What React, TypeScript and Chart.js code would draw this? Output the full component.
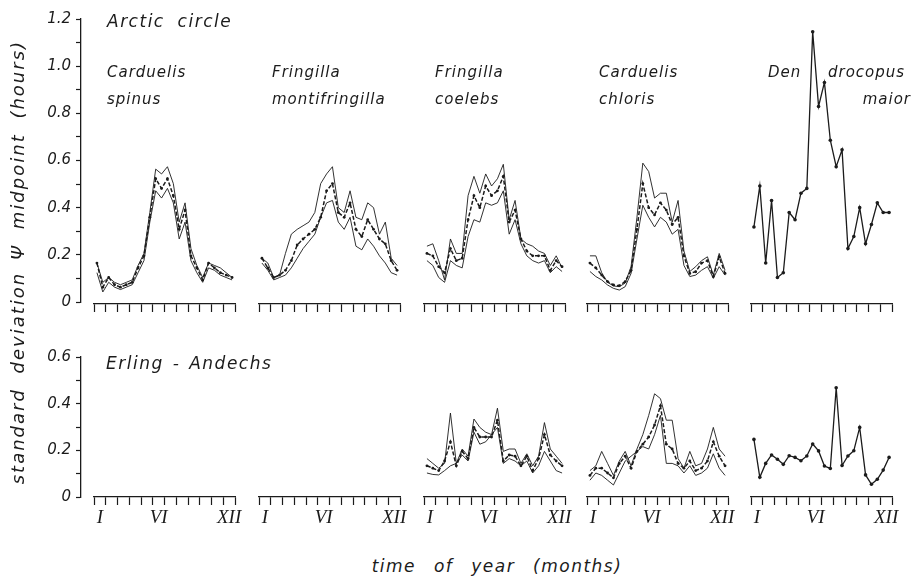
import React, { useEffect, useRef } from 'react';
import { Chart, registerables } from 'chart.js';

Chart.register(...registerables);

// ---------- data ----------
// x positions: half-month centres (months from 1 January)
const halfMonths = [0.25, 0.75, 1.25, 1.75, 2.25, 2.75, 3.25, 3.75, 4.25, 4.75, 5.25, 5.75,
  6.25, 6.75, 7.25, 7.75, 8.25, 8.75, 9.25, 9.75, 10.25, 10.75, 11.25, 11.75];

const monthTickPositions = [0.5, 5.5, 11.5];
const monthTickLabels = ['I', 'VI', 'XII'];
const psiTickLabels = ['0', '0.2', '0.4', '0.6', '0.8', '1.0', '1.2'];
const sdTickLabels = ['0', '0.2', '0.4', '0.6'];

// Arctic circle – Psi midpoint (hours)
const spinusUpper = [0.17, 0.09, 0.11, 0.09, 0.08, 0.09, 0.10, 0.16, 0.21, 0.38, 0.56, 0.54, 0.57, 0.50, 0.34, 0.42, 0.23, 0.16, 0.11, 0.17, 0.16, 0.15, 0.13, 0.11];
const spinusMean = [0.17, 0.07, 0.11, 0.08, 0.07, 0.08, 0.09, 0.15, 0.20, 0.36, 0.52, 0.48, 0.52, 0.45, 0.31, 0.39, 0.20, 0.15, 0.10, 0.17, 0.15, 0.13, 0.12, 0.11];
const spinusLower = [0.13, 0.05, 0.09, 0.07, 0.06, 0.07, 0.08, 0.13, 0.18, 0.34, 0.47, 0.44, 0.48, 0.42, 0.27, 0.34, 0.18, 0.13, 0.09, 0.15, 0.14, 0.12, 0.11, 0.10];

const montiUpper = [0.19, 0.17, 0.11, 0.12, 0.21, 0.29, 0.31, 0.325, 0.34, 0.38, 0.50, 0.54, 0.57, 0.40, 0.38, 0.47, 0.36, 0.35, 0.42, 0.40, 0.29, 0.34, 0.19, 0.16];
const montiMean = [0.19, 0.15, 0.11, 0.12, 0.14, 0.18, 0.245, 0.27, 0.29, 0.31, 0.36, 0.47, 0.50, 0.38, 0.36, 0.42, 0.31, 0.28, 0.35, 0.31, 0.27, 0.25, 0.18, 0.14];
const montiLower = [0.17, 0.14, 0.10, 0.11, 0.12, 0.15, 0.19, 0.23, 0.26, 0.29, 0.36, 0.42, 0.43, 0.34, 0.31, 0.36, 0.24, 0.225, 0.27, 0.24, 0.20, 0.17, 0.13, 0.12];

const coelebsUpper = [0.24, 0.25, 0.18, 0.10, 0.27, 0.21, 0.21, 0.45, 0.53, 0.46, 0.54, 0.49, 0.52, 0.58, 0.35, 0.43, 0.27, 0.25, 0.24, 0.22, 0.21, 0.16, 0.20, 0.15];
const coelebsMean = [0.21, 0.20, 0.155, 0.13, 0.23, 0.18, 0.19, 0.35, 0.45, 0.40, 0.49, 0.45, 0.47, 0.53, 0.34, 0.39, 0.27, 0.22, 0.20, 0.20, 0.20, 0.14, 0.18, 0.155];
const coelebsLower = [0.18, 0.16, 0.11, 0.09, 0.18, 0.16, 0.15, 0.28, 0.35, 0.34, 0.42, 0.41, 0.42, 0.47, 0.29, 0.35, 0.25, 0.20, 0.18, 0.17, 0.18, 0.13, 0.155, 0.135];

const chlorisUpper = [0.20, 0.20, 0.13, 0.09, 0.075, 0.072, 0.087, 0.155, 0.36, 0.585, 0.55, 0.44, 0.46, 0.46, 0.34, 0.43, 0.22, 0.135, 0.155, 0.18, 0.196, 0.12, 0.21, 0.14];
const chlorisMean = [0.17, 0.15, 0.12, 0.093, 0.079, 0.076, 0.093, 0.14, 0.31, 0.50, 0.40, 0.37, 0.42, 0.39, 0.33, 0.36, 0.20, 0.127, 0.134, 0.17, 0.18, 0.114, 0.196, 0.127];
const chlorisLower = [0.135, 0.114, 0.10, 0.079, 0.065, 0.058, 0.072, 0.127, 0.27, 0.41, 0.36, 0.32, 0.36, 0.34, 0.29, 0.31, 0.16, 0.114, 0.12, 0.14, 0.155, 0.107, 0.155, 0.12];

const maiorPsi = [0.32, 0.49, 0.17, 0.43, 0.11, 0.13, 0.38, 0.35, 0.46, 0.48, 1.13, 0.82, 0.92, 0.68, 0.57, 0.64, 0.23, 0.28, 0.40, 0.25, 0.33, 0.42, 0.38, 0.38];

// Erling-Andechs – standard deviation
const coelebsSdUpper = [0.16, 0.14, 0.12, 0.14, 0.35, 0.14, 0.20, 0.17, 0.325, 0.29, 0.27, 0.26, 0.37, 0.19, 0.20, 0.20, 0.14, 0.18, 0.13, 0.17, 0.31, 0.20, 0.17, 0.14];
const coelebsSdMean = [0.13, 0.12, 0.11, 0.15, 0.23, 0.13, 0.19, 0.16, 0.29, 0.25, 0.25, 0.25, 0.32, 0.15, 0.175, 0.17, 0.13, 0.17, 0.11, 0.16, 0.26, 0.175, 0.15, 0.13];
const coelebsSdLower = [0.10, 0.094, 0.092, 0.11, 0.13, 0.14, 0.175, 0.15, 0.27, 0.22, 0.23, 0.26, 0.29, 0.14, 0.16, 0.15, 0.13, 0.15, 0.10, 0.13, 0.19, 0.15, 0.11, 0.10];

const chlorisSdUpper = [0.11, 0.13, 0.19, 0.14, 0.09, 0.15, 0.19, 0.13, 0.20, 0.26, 0.34, 0.43, 0.41, 0.32, 0.32, 0.16, 0.12, 0.19, 0.13, 0.14, 0.20, 0.29, 0.20, 0.17];
const chlorisSdMean = [0.09, 0.12, 0.12, 0.10, 0.08, 0.14, 0.17, 0.12, 0.19, 0.22, 0.25, 0.30, 0.38, 0.22, 0.20, 0.14, 0.12, 0.15, 0.11, 0.12, 0.15, 0.23, 0.17, 0.13];
const chlorisSdLower = [0.07, 0.10, 0.09, 0.07, 0.05, 0.10, 0.15, 0.17, 0.19, 0.21, 0.20, 0.26, 0.34, 0.14, 0.14, 0.13, 0.10, 0.13, 0.09, 0.10, 0.12, 0.18, 0.12, 0.09];

const maiorSd = [0.24, 0.082, 0.14, 0.175, 0.157, 0.136, 0.172, 0.165, 0.151, 0.171, 0.221, 0.192, 0.129, 0.119, 0.455, 0.131, 0.171, 0.193, 0.29, 0.092, 0.053, 0.074, 0.112, 0.165];

// ---------- layout ----------
const INK = '#1b1b1b';
const PAD_T = 10;
const PAD_X = 12;
const PANEL_W = 141;
const panelLefts = [94, 259, 424, 587, 751];
const TOP_ROW = { top: 15, height: 289, yMax: 1.2, axisH: 12 };
const BOT_ROW = { top: 353, height: 144, yMax: 0.6, axisH: 36 };

type Role = 'band' | 'mean' | 'single';
type Line = { values: number[]; role: Role };

function styleFor(role: Role) {
  if (role === 'band') {
    return { borderColor: INK, borderWidth: 0.9, pointRadius: 0 };
  }
  if (role === 'mean') {
    return { borderColor: INK, borderWidth: 1.5, borderDash: [4, 2], pointRadius: 1.4, pointBackgroundColor: INK, pointBorderWidth: 0 };
  }
  return { borderColor: INK, borderWidth: 1.3, pointRadius: 1.8, pointBackgroundColor: INK, pointBorderWidth: 0 };
}

function PanelChart(props: { left: number; row: typeof TOP_ROW; lines: Line[]; showMonths: boolean }) {
  const ref = useRef<HTMLCanvasElement>(null);
  const { left, row, lines, showMonths } = props;
  const w = PANEL_W + 2 * PAD_X;
  const h = PAD_T + row.height + row.axisH;
  useEffect(() => {
    const chart = new Chart(ref.current as HTMLCanvasElement, {
      type: 'line',
      data: {
        datasets: lines.map((l) => ({
          data: halfMonths.map((x, i) => ({ x, y: l.values[i] })),
          tension: 0,
          fill: false,
          ...styleFor(l.role),
        })) as any,
      },
      options: {
        responsive: false,
        animation: false,
        devicePixelRatio: 1,
        layout: { padding: { top: PAD_T, left: PAD_X, right: PAD_X, bottom: 0 } },
        plugins: { legend: { display: false }, tooltip: { enabled: false } },
        scales: {
          x: {
            type: 'linear',
            min: 0,
            max: 12,
            afterFit: (s: any) => { s.height = row.axisH; },
            grid: {
              drawOnChartArea: false,
              drawTicks: true,
              tickLength: 8,
              tickWidth: 1.2,
              tickColor: (ctx: any) => (ctx.tick && Number.isInteger(ctx.tick.value) ? INK : 'rgba(0,0,0,0)'),
            },
            border: { display: true, color: INK, width: 1.3 },
            ticks: {
              stepSize: 0.5,
              autoSkip: false,
              maxRotation: 0,
              display: showMonths,
              padding: 2,
              color: INK,
              font: { family: '"Liberation Serif", serif', style: 'italic', size: 19 },
              callback: (v: any) => {
                const k = monthTickPositions.indexOf(Number(v));
                return k >= 0 ? monthTickLabels[k] : '';
              },
            },
          },
          y: { type: 'linear', display: false, min: 0, max: row.yMax },
        },
      } as any,
    });
    return () => chart.destroy();
  }, []);
  return (
    <div style={{ position: 'absolute', left: left - PAD_X, top: row.top - PAD_T, width: w, height: h }}>
      <canvas ref={ref} width={w} height={h} style={{ display: 'block', width: w, height: h }} />
    </div>
  );
}

function YAxisChart(props: { row: typeof TOP_ROW; labels: string[] }) {
  const ref = useRef<HTMLCanvasElement>(null);
  const { row, labels } = props;
  const AX_W = 61;
  const left = 81 - AX_W;
  const w = AX_W + 6;
  const h = PAD_T + row.height + row.axisH;
  useEffect(() => {
    const chart = new Chart(ref.current as HTMLCanvasElement, {
      type: 'line',
      data: { datasets: [] },
      options: {
        responsive: false,
        animation: false,
        devicePixelRatio: 1,
        layout: { padding: { top: PAD_T, left: 0, right: 6, bottom: row.axisH } },
        plugins: { legend: { display: false }, tooltip: { enabled: false } },
        scales: {
          x: { type: 'linear', display: false, min: 0, max: 1 },
          y: {
            type: 'linear',
            position: 'left',
            min: 0,
            max: row.yMax,
            afterFit: (s: any) => { s.width = AX_W; },
            grid: { drawOnChartArea: false, drawTicks: true, tickLength: 5, tickWidth: 1.2, tickColor: INK },
            border: { display: true, color: INK, width: 1.3 },
            ticks: {
              stepSize: 0.1,
              autoSkip: false,
              padding: 5,
              color: INK,
              font: { family: '"DejaVu Sans", sans-serif', style: 'italic', size: 15 },
              callback: (v: any) => {
                const k = Math.round(Number(v) * 10);
                return k % 2 === 0 ? labels[k / 2] : '';
              },
            },
          },
        },
      } as any,
    });
    return () => chart.destroy();
  }, []);
  return (
    <div style={{ position: 'absolute', left, top: row.top - PAD_T, width: w, height: h }}>
      <canvas ref={ref} width={w} height={h} style={{ display: 'block', width: w, height: h }} />
    </div>
  );
}

const band = (values: number[]): Line => ({ values, role: 'band' });
const mean = (values: number[]): Line => ({ values, role: 'mean' });
const single = (values: number[]): Line => ({ values, role: 'single' });

const topPanels: Line[][] = [
  [band(spinusUpper), mean(spinusMean), band(spinusLower)],
  [band(montiUpper), mean(montiMean), band(montiLower)],
  [band(coelebsUpper), mean(coelebsMean), band(coelebsLower)],
  [band(chlorisUpper), mean(chlorisMean), band(chlorisLower)],
  [single(maiorPsi)],
];
const bottomPanels: Line[][] = [
  [],
  [],
  [band(coelebsSdUpper), mean(coelebsSdMean), band(coelebsSdLower)],
  [band(chlorisSdUpper), mean(chlorisSdMean), band(chlorisSdLower)],
  [single(maiorSd)],
];

const speciesNames: [string, string][] = [
  ['Carduelis', 'spinus'],
  ['Fringilla', 'montifringilla'],
  ['Fringilla', 'coelebs'],
  ['Carduelis', 'chloris'],
];
const speciesLefts = [107, 272, 435, 599];

const textBase: React.CSSProperties = {
  position: 'absolute',
  whiteSpace: 'nowrap',
  fontFamily: '"DejaVu Sans", sans-serif',
  fontStyle: 'italic',
  color: INK,
  lineHeight: '20px',
};

export default function App() {
  return (
    <div style={{ position: 'fixed', left: 0, top: 0, width: 914, height: 580, background: '#fff', overflow: 'hidden' }}>
      <YAxisChart row={TOP_ROW} labels={psiTickLabels} />
      <YAxisChart row={BOT_ROW} labels={sdTickLabels} />
      {topPanels.map((lines, i) => (
        <PanelChart key={'t' + i} left={panelLefts[i]} row={TOP_ROW} lines={lines} showMonths={false} />
      ))}
      {bottomPanels.map((lines, i) => (
        <PanelChart key={'b' + i} left={panelLefts[i]} row={BOT_ROW} lines={lines} showMonths={true} />
      ))}

      <div style={{ ...textBase, left: 107, top: 11, fontSize: 17, letterSpacing: 1.5, wordSpacing: 6 }}>Arctic circle</div>
      <div style={{ ...textBase, left: 106, top: 353, fontSize: 17, letterSpacing: 1.5, wordSpacing: 2 }}>Erling - Andechs</div>

      {speciesNames.map((n, i) => (
        <React.Fragment key={'s' + i}>
          <div style={{ ...textBase, left: speciesLefts[i], top: 62, fontSize: 15, letterSpacing: 1 }}>{n[0]}</div>
          <div style={{ ...textBase, left: speciesLefts[i], top: 89, fontSize: 15, letterSpacing: 1 }}>{n[1]}</div>
        </React.Fragment>
      ))}
      <div style={{ ...textBase, left: 768, top: 62, fontSize: 15, letterSpacing: 1 }}>Den</div>
      <div style={{ ...textBase, left: 828, top: 62, fontSize: 15, letterSpacing: 1 }}>drocopus</div>
      <div style={{ ...textBase, right: 914 - 911, top: 89, fontSize: 15, letterSpacing: 1 }}>maior</div>

      <div style={{ ...textBase, left: 18, top: 150, fontSize: 18, letterSpacing: 2, wordSpacing: 7, transform: 'translate(-50%, -50%) rotate(-90deg)' }}>Ψ midpoint (hours)</div>
      <div style={{ ...textBase, left: 18, top: 378, fontSize: 18, letterSpacing: 2, wordSpacing: 7, transform: 'translate(-50%, -50%) rotate(-90deg)' }}>standard deviation</div>

      <div style={{ ...textBase, left: 497, top: 566, fontSize: 17, letterSpacing: 1.5, wordSpacing: 11, transform: 'translate(-50%, -50%)' }}>time of year (months)</div>
    </div>
  );
}
